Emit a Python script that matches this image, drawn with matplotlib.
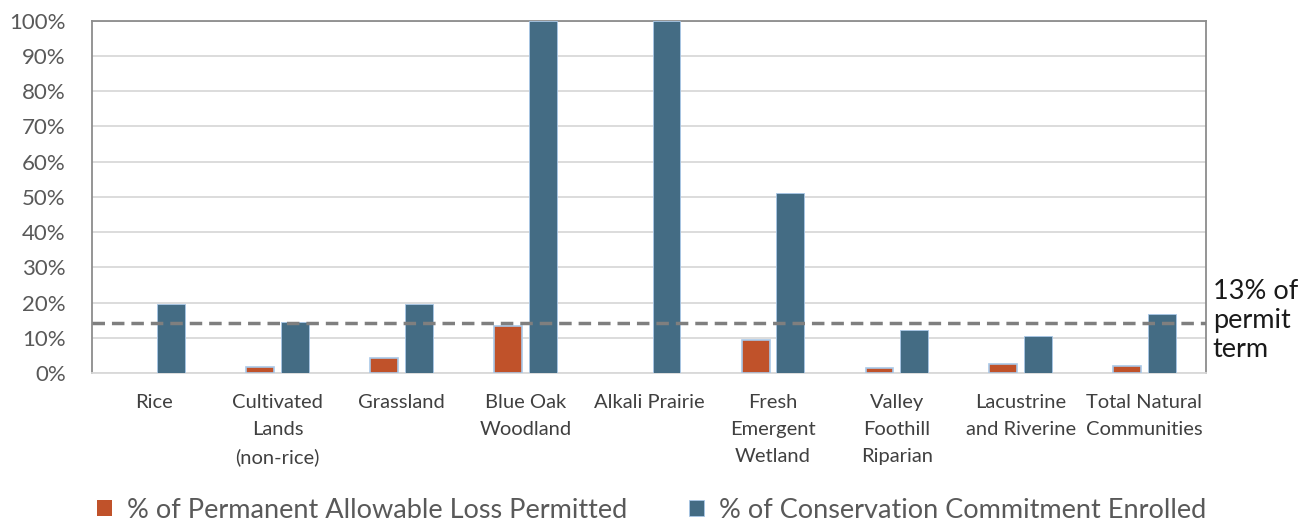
import numpy as np
import matplotlib
matplotlib.use("Agg")
import matplotlib.pyplot as plt

plt.rcParams['font.family'] = ['Lato', 'DejaVu Sans']

categories = ["Rice", "Cultivated\nLands\n(non-rice)", "Grassland", "Blue Oak\nWoodland",
              "Alkali Prairie", "Fresh\nEmergent\nWetland", "Valley\nFoothill\nRiparian",
              "Lacustrine\nand Riverine", "Total Natural\nCommunities"]
loss_permitted = [0.0, 1.8, 4.2, 13.3, 0.0, 9.45, 1.5, 2.55, 1.9]
commitment_enrolled = [19.5, 14.6, 19.5, 100.0, 100.0, 51.0, 12.2, 10.5, 16.8]
permit_term_line = 14.1
yticks = np.arange(0, 101, 10)

orange = "#C0522A"
blue = "#446C84"
edge = "#A9C8E8"

fig = plt.figure(figsize=(13.11, 5.21), dpi=100)
ax = fig.add_axes([0.0702, 0.284, 0.850, 0.676])

x = np.arange(len(categories))
w = 0.225
loss_edges = [edge if v > 0 else "none" for v in loss_permitted]
ax.bar(x - 0.14, loss_permitted, w, color=orange, edgecolor=loss_edges, linewidth=1.2,
       label="% of Permanent Allowable Loss Permitted", zorder=3)
ax.bar(x + 0.14, commitment_enrolled, w, color=blue, edgecolor=edge, linewidth=0.6,
       label="% of Conservation Commitment Enrolled", zorder=3)

ax.axhline(permit_term_line, color="#7F7F7F", lw=2.5, ls=(0, (3.6, 2.0)), zorder=4)

ax.set_xlim(-0.5, len(categories) - 0.5)
ax.set_ylim(0, 100)
ax.set_yticks(yticks)
ax.set_yticklabels([f"{v}%" for v in yticks])
ax.set_xticks(x)
ax.set_xticklabels(categories, fontsize=14.5, color="#404040", linespacing=1.72)
ax.tick_params(axis="y", length=0, pad=19, labelsize=16, labelcolor="#595959")
ax.tick_params(axis="x", length=0, pad=15)
ax.grid(axis="y", color="#D9D9D9", lw=1.3, zorder=0)
for s in ax.spines.values():
    s.set_color("#8C8C8C")
    s.set_linewidth(1.3)
ax.spines["bottom"].set_color("#D9D9D9")

fig.text(0.925, 0.385, "13% of\npermit\nterm", fontsize=19.5, color="#1A1A1A",
         va="center", ha="left", linespacing=1.2)

fig.legend(loc="lower center", bbox_to_anchor=(0.497, -0.05), ncol=2, frameon=False,
           fontsize=19.5, labelcolor="#595959", handlelength=0.55, handleheight=0.55,
           handletextpad=0.55, columnspacing=2.3)

fig.savefig("out.png", dpi=100)
